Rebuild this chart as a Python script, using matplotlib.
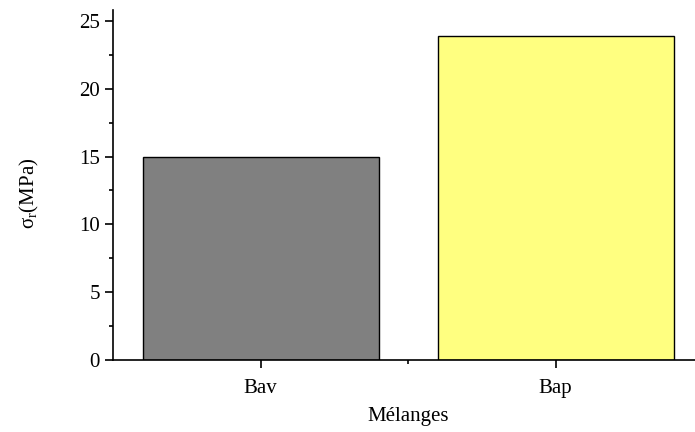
import matplotlib.pyplot as plt
from matplotlib.ticker import MultipleLocator

# donnees
melanges = ["Bav", "Bap"]
sigma_r = [15.0, 23.9]
couleurs = ["#808080", "#FFFF80"]

plt.rcParams['font.family'] = ['Liberation Serif', 'DejaVu Serif']
plt.rcParams['mathtext.fontset'] = 'custom'
plt.rcParams['mathtext.rm'] = 'Liberation Serif'

fig = plt.figure(figsize=(6.95, 4.32), dpi=100)
ax = fig.add_axes([113 / 695, 72 / 432, 590 / 695, 350 / 432])

x = [1, 2]
ax.bar(x, sigma_r, width=0.8, color=couleurs, edgecolor="black", linewidth=1)

ax.set_xlim(0.5, 2.5)
ax.set_ylim(0, 25.8)
ax.set_xticks(x)
ax.set_xticklabels(melanges)
ax.xaxis.set_minor_locator(plt.FixedLocator([1.5]))
ax.yaxis.set_major_locator(MultipleLocator(5))
ax.yaxis.set_minor_locator(MultipleLocator(2.5))

for s in ["top", "right"]:
    ax.spines[s].set_visible(False)
for s in ["left", "bottom"]:
    ax.spines[s].set_linewidth(1.2)

ax.tick_params(which="major", direction="out", length=6, width=1.2, labelsize=15)
ax.tick_params(axis="x", which="major", pad=8)
ax.tick_params(which="minor", direction="out", length=3, width=1.2)

ax.set_xlabel("Mélanges", fontsize=15, labelpad=6)
ax.set_ylabel(r"σ$_\mathrm{r}$(MPa)", fontsize=15)
ax.yaxis.set_label_coords(-0.122, 0.475)

fig.savefig("out.png", dpi=100)
